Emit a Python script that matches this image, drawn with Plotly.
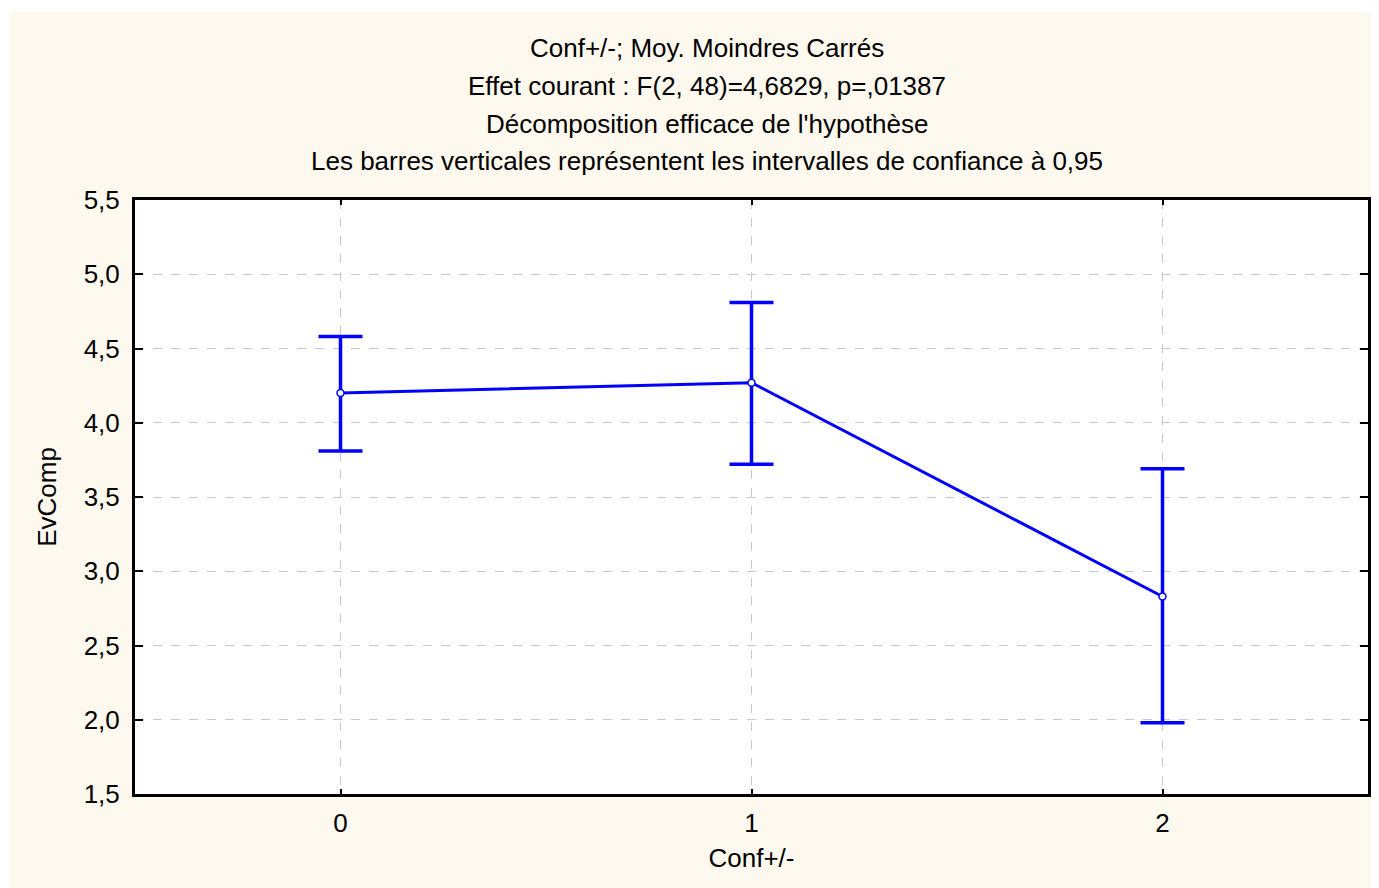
import plotly.graph_objects as go

# Data
categories = [0, 1, 2]
means = [4.20, 4.27, 2.83]
ci_upper = [4.58, 4.81, 3.69]
ci_lower = [3.81, 3.72, 1.98]
y_ticks = [1.5, 2.0, 2.5, 3.0, 3.5, 4.0, 4.5, 5.0, 5.5]
y_tick_labels = ["1,5", "2,0", "2,5", "3,0", "3,5", "4,0", "4,5", "5,0", "5,5"]
title_lines = [
    "Conf+/-; Moy. Moindres Carrés",
    "Effet courant : F(2, 48)=4,6829, p=,01387",
    "Décomposition efficace de l'hypothèse",
    "Les barres verticales représentent les intervalles de confiance à 0,95",
]

err_plus = [u - m for u, m in zip(ci_upper, means)]
err_minus = [m - l for m, l in zip(means, ci_lower)]

OFF = 8  # page body margin
W, H = 1379 - OFF, 888 - OFF
ML, MT = 135 - OFF, 200 - OFF
MR = W - (1368 - OFF)
MB = H - (794 - OFF)
PW, PH = W - ML - MR, H - MT - MB

def px_x(px):
    return (px - OFF - ML) / PW

def px_y(py):
    return (MT + PH - (py - OFF)) / PH

BLUE = "#0000FF"
CREAM = "#FEF9EE"
FONT = "Liberation Sans, Arial, sans-serif"
FS = 26

fig = go.Figure()
fig.add_trace(go.Scatter(
    x=categories, y=means, mode="lines+markers",
    line=dict(color=BLUE, width=3),
    marker=dict(size=7, color="white", line=dict(color=BLUE, width=1.5)),
    error_y=dict(type="data", symmetric=False, array=err_plus, arrayminus=err_minus,
                 color=BLUE, thickness=3.5, width=22),
    showlegend=False,
))

shapes = [
    dict(type="rect", xref="paper", yref="paper", x0=px_x(9), x1=px_x(1400), y0=px_y(900), y1=px_y(12),
         fillcolor=CREAM, line=dict(width=0), layer="below"),
    dict(type="rect", xref="paper", yref="paper", x0=0, x1=1, y0=0, y1=1,
         fillcolor="white", line=dict(width=0), layer="below"),
]

annotations = []
for t, yc in zip(title_lines, [48, 86, 124, 161]):
    annotations.append(dict(text=t, xref="paper", yref="paper", x=px_x(707), y=px_y(yc),
                            xanchor="center", yanchor="middle", showarrow=False,
                            font=dict(family=FONT, size=FS, color="black")))

fig.update_layout(
    width=W, height=H,
    margin=dict(l=ML, r=MR, t=MT, b=MB, autoexpand=False),
    paper_bgcolor="white", plot_bgcolor="white",
    font=dict(family=FONT, size=FS, color="black"),
    shapes=shapes, annotations=annotations,
    xaxis=dict(range=[-0.5, 2.5], tickvals=categories, ticktext=[str(c) for c in categories],
               showgrid=True, gridcolor="#c8c8c8", griddash="dash", gridwidth=1,
               showline=True, linecolor="black", linewidth=3, mirror="ticks",
               ticks="inside", ticklen=5, tickwidth=2, tickcolor="black",
               zeroline=False, ticklabelstandoff=4,
               title=dict(text="Conf+/-", font=dict(size=FS), standoff=12)),
    yaxis=dict(range=[1.5, 5.5], tickvals=y_ticks, ticktext=y_tick_labels,
               showgrid=True, gridcolor="#c8c8c8", griddash="dash", gridwidth=1,
               showline=True, linecolor="black", linewidth=3, mirror="ticks",
               ticks="inside", ticklen=8, tickwidth=2, tickcolor="black",
               zeroline=False, ticklabelstandoff=7,
               title=dict(text="EvComp", font=dict(size=FS), standoff=20)),
)

fig.write_html("out.html")
